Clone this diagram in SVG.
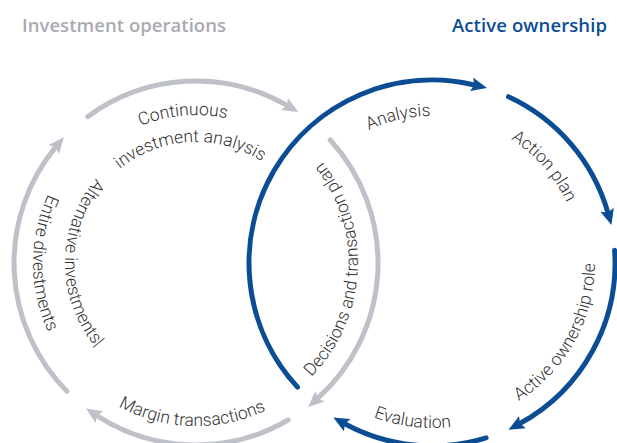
<svg xmlns="http://www.w3.org/2000/svg" xmlns:xlink="http://www.w3.org/1999/xlink" width="617" height="443" viewBox="0 0 617 443">
<style>
.title{font-family:"Open Sans","Noto Sans","Liberation Sans",sans-serif;font-size:18.5px;font-weight:600}
.lbl{font-family:Roboto,"Liberation Sans",sans-serif;font-size:17.5px;font-weight:300;fill:#333}
.g{fill:none;stroke:#bfc1c8;stroke-width:5;stroke-linecap:round}
.b{fill:none;stroke:#0b4d94;stroke-width:5;stroke-linecap:round}
</style>
<defs>
<marker id="ag" markerUnits="userSpaceOnUse" markerWidth="16" markerHeight="14" viewBox="0 0 16 14" refX="3" refY="7" orient="auto"><path d="M0,0 L16,7 L0,14 L3,7 Z" fill="#bfc1c8"/></marker>
<marker id="ab" markerUnits="userSpaceOnUse" markerWidth="16" markerHeight="14" viewBox="0 0 16 14" refX="3" refY="7" orient="auto"><path d="M0,0 L16,7 L0,14 L3,7 Z" fill="#0b4d94"/></marker>
<path id="p1" d="M53.1,224.7 A148,148 0 0 1 330.1,200.5"/>
<path id="p2" d="M80.3,227.6 A121,121 0 0 1 307.4,215.7"/>
<path id="p3" d="M243.4,417.9 A162,162 0 0 0 259.3,113.9"/>
<path id="p4" d="M41.4,314.7 A163,163 0 0 0 347.7,322.7"/>
<path id="p5" d="M151.2,139.9 A131,131 0 0 0 151.2,386.1"/>
<path id="p6" d="M140.3,109.8 A163,163 0 0 0 140.3,416.2"/>
<path id="p7" d="M286.1,245.1 A147,147 0 0 1 555.3,182.9"/>
<path id="p8" d="M386.3,122.3 A150,150 0 0 1 566.7,328.4"/>
<path id="p9" d="M406.5,424 A163,163 0 0 0 555,156.1"/>
<path id="p10" d="M271.2,300.1 A165,165 0 0 0 579,337.9"/>
</defs>
<g id="titles">
<text class="title" x="22" y="32" fill="#a9abb2" textLength="204">Investment operations</text>
<text class="title" x="452" y="32" fill="#0b4d94" textLength="155">Active ownership</text>
</g>
<g id="connectors">
<path class="g" d="M87.7,116.7 A182,182 0 0 1 287,105.4" marker-end="url(#ag)"/>
<path class="g" d="M330.2,140 A182,182 0 0 1 317.8,398.2" marker-end="url(#ag)"/>
<path class="g" d="M288.1,420 A182,182 0 0 1 96.9,415.6" marker-end="url(#ag)"/>
<path class="g" d="M66.9,391.2 A182,182 0 0 1 55.6,147.2" marker-end="url(#ag)"/>
<path class="b" d="M297.5,387.1 A183,183 0 0 1 474.4,85" marker-end="url(#ab)"/>
<path class="b" d="M508.5,96.7 A183,183 0 0 1 607.9,212.6" marker-end="url(#ab)"/>
<path class="b" d="M614.6,250.2 A183,183 0 0 1 519.9,423.5" marker-end="url(#ab)"/>
<path class="b" d="M486.1,437.8 A183,183 0 0 1 344.7,423.8" marker-end="url(#ab)"/>
</g>
<g id="continuous-analysis"><text class="lbl" text-anchor="middle"><textPath xlink:href="#p1" startOffset="50%">Continuous</textPath></text><text class="lbl" text-anchor="middle"><textPath xlink:href="#p2" startOffset="50%">investment analysis</textPath></text></g>
<g id="decisions"><text class="lbl" text-anchor="middle"><textPath xlink:href="#p3" startOffset="50%">Decisions and transaction plan</textPath></text></g>
<g id="margin"><text class="lbl" text-anchor="middle"><textPath xlink:href="#p4" startOffset="50%">Margin transactions</textPath></text></g>
<g id="alternative"><text class="lbl" text-anchor="middle"><textPath xlink:href="#p5" startOffset="50%">Alternative investments|</textPath></text><text class="lbl" text-anchor="middle"><textPath xlink:href="#p6" startOffset="50%">Entire divestments</textPath></text></g>
<g id="analysis"><text class="lbl" text-anchor="middle"><textPath xlink:href="#p7" startOffset="50%">Analysis</textPath></text></g>
<g id="action-plan"><text class="lbl" text-anchor="middle"><textPath xlink:href="#p8" startOffset="50%">Action plan</textPath></text></g>
<g id="active-role"><text class="lbl" text-anchor="middle"><textPath xlink:href="#p9" startOffset="50%">Active ownership role</textPath></text></g>
<g id="evaluation"><text class="lbl" text-anchor="middle"><textPath xlink:href="#p10" startOffset="50%">Evaluation</textPath></text></g>
</svg>
